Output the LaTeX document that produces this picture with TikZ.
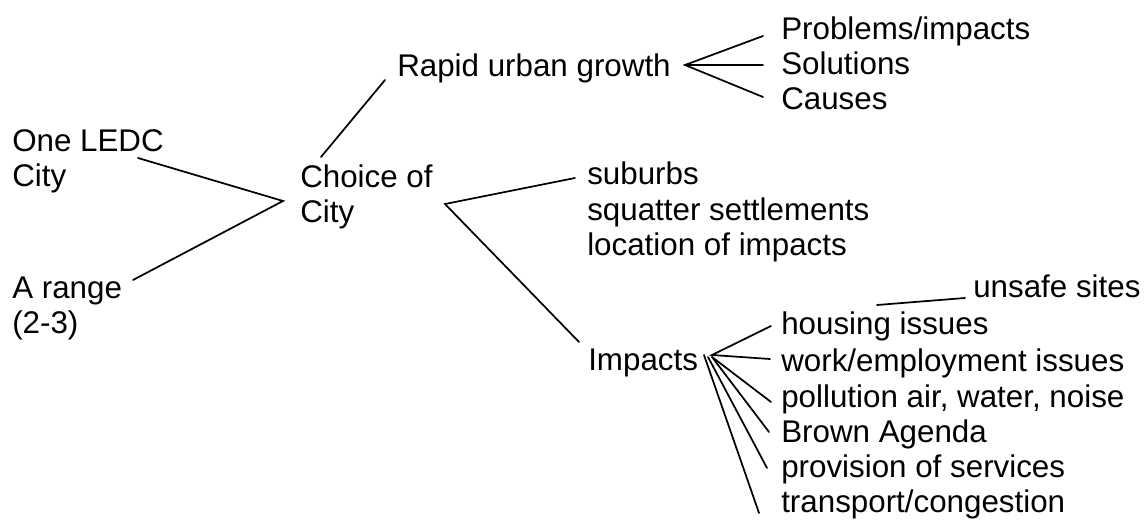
\documentclass[tikz,border=0pt]{standalone}
\usepackage{fontspec}
\setmainfont{Liberation Sans}
\begin{document}
\begin{tikzpicture}[x=0.75pt,y=-0.75pt,
  lbl/.style={inner sep=0pt,anchor=base west,align=left,font=\fontsize{23.5}{26.8}\selectfont},
  link/.style={line width=1.3pt,line cap=round}]
\useasboundingbox (0,0) rectangle (1144,523);
% texts (multi-line nodes: base = last line's baseline)
\node[lbl] (one) at (12,187) {One LEDC\\City};
\node[lbl] (range) at (12,334) {A range\\(2-3)};
\node[lbl] (choice) at (300,223) {Choice of\\City};
\node[lbl] (rug) at (397,77) {Rapid urban growth};
\node[lbl] (prob) at (781,40) {Problems/impacts};
\node[lbl] (sol) at (781,75) {Solutions};
\node[lbl] (cause) at (781,110) {Causes};
\node[lbl] (sub) at (587,256) {suburbs\\squatter settlements\\location of impacts};
\node[lbl] (imp) at (588,370) {Impacts};
\node[lbl] (unsafe) at (973,298) {unsafe sites};
\node[lbl] (housing) at (781,335) {housing issues};
\node[lbl] (work) at (781,371) {work/employment issues};
\node[lbl] (poll) at (781,407) {pollution air, water, noise};
\node[lbl] (brown) at (781,442) {Brown Agenda};
\node[lbl] (prov) at (781,477) {provision of services};
\node[lbl] (trans) at (781,512) {transport/congestion};
% connector points
\coordinate (oneE) at (138,158);
\coordinate (rangeE) at (133,280);
\coordinate (choiceW) at (283,201);
\coordinate (choiceN) at (321,157);
\coordinate (rugW) at (385,80);
\coordinate (rugE) at (685,65);
\coordinate (probW) at (763,36);
\coordinate (solW) at (763,65);
\coordinate (causeW) at (763,97);
\coordinate (choiceE) at (445,204);
\coordinate (subW) at (575,178);
\coordinate (impN) at (579,342);
\coordinate (impA) at (712,355);
\coordinate (impB) at (712,357);
\coordinate (impC) at (708,357);
\coordinate (impD) at (704,355);
\coordinate (housingW) at (771,326);
\coordinate (workW) at (770,359);
\coordinate (pollW) at (771,402);
\coordinate (brownW) at (769,432);
\coordinate (provW) at (767,468);
\coordinate (transW) at (759,513);
\coordinate (housingN) at (877,305);
\coordinate (unsafeW) at (965,298);
% connectors
\draw[link] (oneE) -- (choiceW) -- (rangeE);
\draw[link] (choiceN) -- (rugW);
\draw[link] (probW) -- (rugE) -- (causeW);
\draw[link] (rugE) -- (solW);
\draw[link] (subW) -- (choiceE) -- (impN);
\draw[link] (housingW) -- (impA) -- (workW);
\draw[link] (impB) -- (pollW);
\draw[link] (impB) -- (brownW);
\draw[link] (impC) -- (provW);
\draw[link] (impD) -- (transW);
\draw[link] (housingN) -- (unsafeW);
\end{tikzpicture}
\end{document}
